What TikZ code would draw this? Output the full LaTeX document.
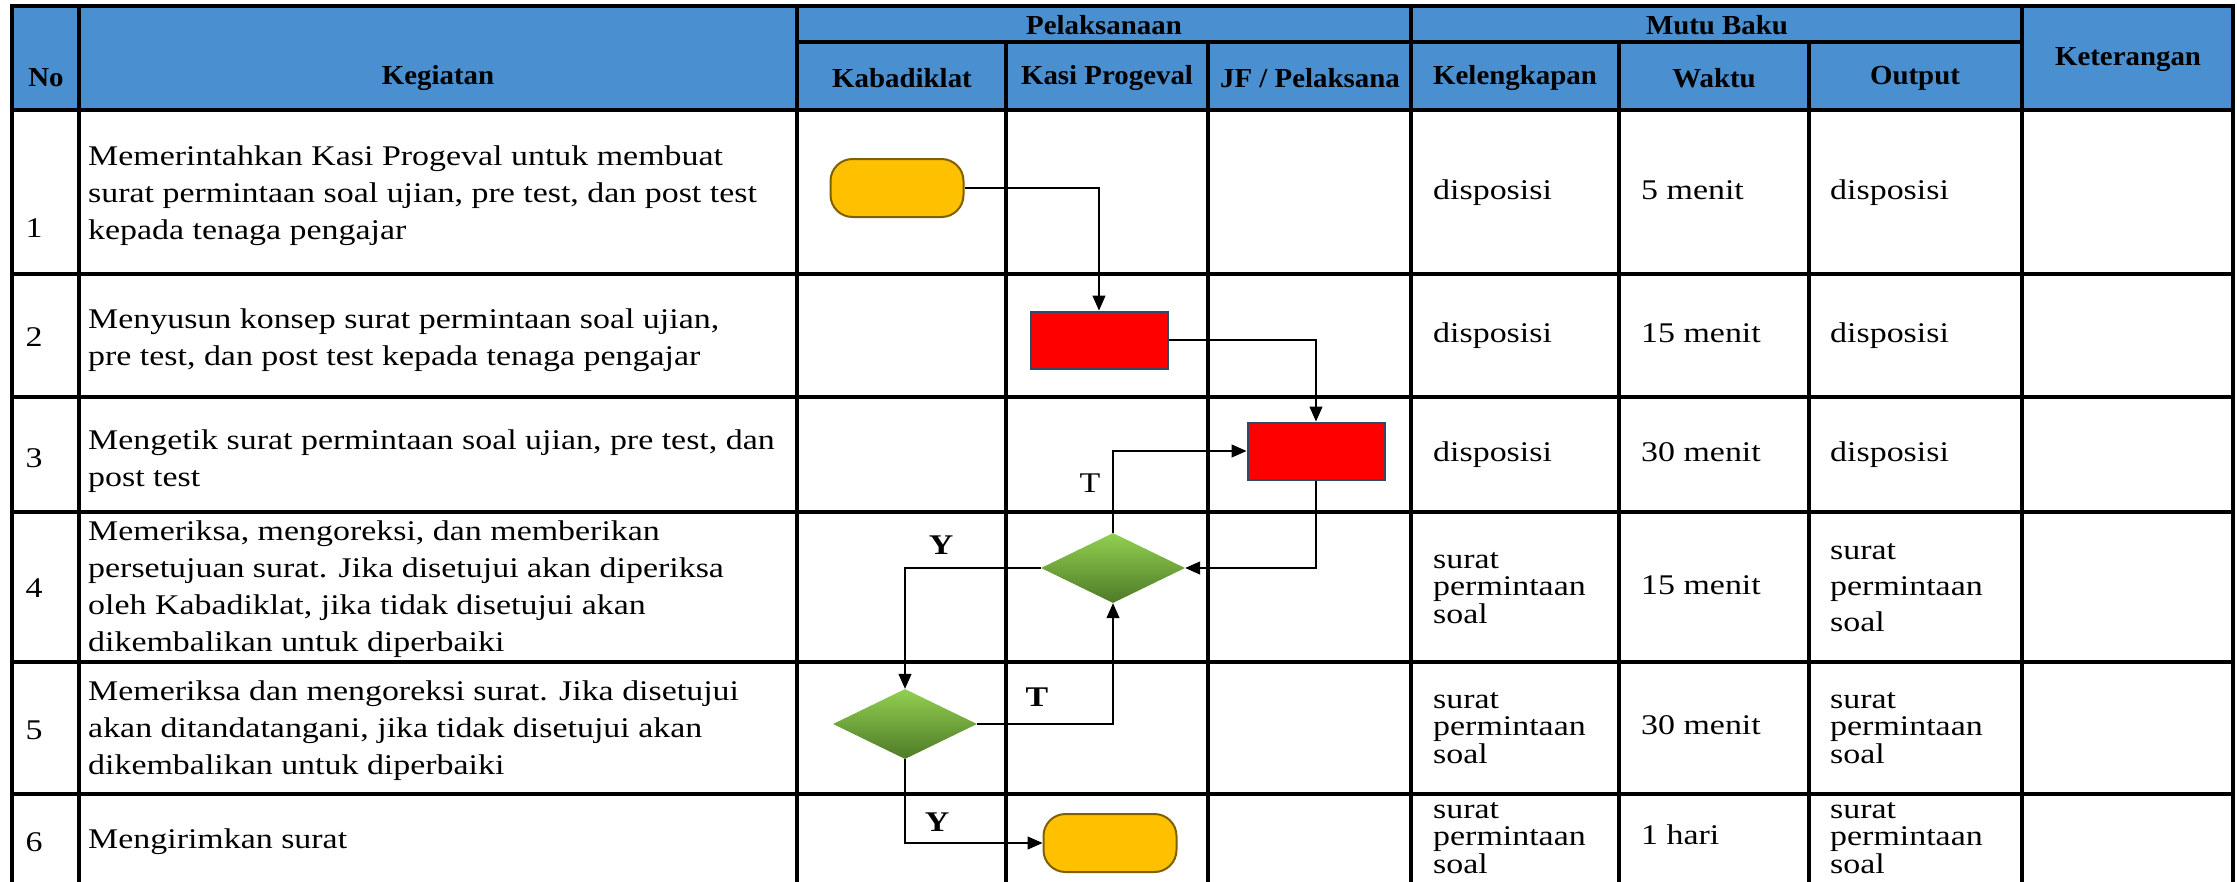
\documentclass[tikz,border=0pt]{standalone}
\usepackage{fontspec}
\setmainfont{Liberation Serif}[FakeStretch=1.19]
\newfontfamily\hdfont{Liberation Serif}[FakeStretch=1.05]
\usetikzlibrary{arrows.meta,shapes.geometric}
\definecolor{headblue}{HTML}{4A8FCF}
\definecolor{termfill}{HTML}{FFC000}
\definecolor{termline}{HTML}{7F6000}
\definecolor{procfill}{HTML}{FF0000}
\definecolor{procline}{HTML}{2E4A66}
\definecolor{dectop}{HTML}{92D050}
\definecolor{decbot}{HTML}{4E7A28}

\begin{document}
\begin{tikzpicture}[x=1pt, y=-1pt,
  grid/.style={line width=3.3pt, line cap=rect, black},
  hd/.style={inner sep=0pt, font=\hdfont\fontsize{27.5}{30}\selectfont\bfseries},
  num/.style={inner sep=0pt, font=\fontsize{28.5}{34}\selectfont},
  cell/.style={anchor=west, align=left, inner sep=0pt, font=\fontsize{28.5}{37}\selectfont},
  one/.style={cell, text height=20pt, text depth=7pt},
  tight/.style={anchor=west, align=left, inner sep=0pt, font=\fontsize{28.5}{27.5}\selectfont},
  term/.style={draw=termline, line width=2pt, fill=termfill, rounded corners=22pt,
               minimum width=133pt, minimum height=58pt},
  proc/.style={draw=procline, line width=2pt, fill=procfill,
               minimum width=137pt, minimum height=57pt},
  dec/.style={diamond, top color=dectop, bottom color=decbot, inner sep=0pt,
              minimum width=144pt, minimum height=70pt},
  arr/.style={-{Triangle[length=15pt,width=13pt]}, line width=1.3pt},
  lbl/.style={inner sep=0pt, font=\fontsize{28.5}{30}\selectfont},
  lblb/.style={inner sep=0pt, font=\fontsize{28.5}{30}\selectfont\bfseries}
]
  \useasboundingbox (0,0) rectangle (2237,881);
  \fill[headblue] (12,6) rectangle (2233,110);

  \draw[grid] (12,6) -- (2233,6);
  \draw[grid] (797,42) -- (2022,42);
  \draw[grid] (12,110) -- (2233,110);
  \foreach \y in {274,397,512,662,794}
    \draw[grid] (12,\y) -- (2233,\y);
  \foreach \x in {12,79,797,1411,2022,2233}
    \draw[grid] (\x,6) -- (\x,881);
  \foreach \x in {1006,1208,1619,1809}
    \draw[grid] (\x,42) -- (\x,881);

  \node[hd] (hNo) at (46,78) {No};
  \node[hd] (hKeg) at (438,78) {Kegiatan};
  \node[hd] (hPel) at (1104,25) {Pelaksanaan};
  \node[hd] (hMutu) at (1717,25) {Mutu Baku};
  \node[hd] (hKet) at (2128,60) {Keterangan};
  \node[hd] (hKab) at (902,78) {Kabadiklat};
  \node[hd] (hKasi) at (1107,78) {Kasi Progeval};
  \node[hd] (hJF) at (1310,78) {JF / Pelaksana};
  \node[hd] (hKel) at (1515,78) {Kelengkapan};
  \node[hd] (hWak) at (1714,78) {Waktu};
  \node[hd] (hOut) at (1915,78) {Output};

  \node[num] (n1) at (34,228) {1};
  \node[num] (n2) at (34,337) {2};
  \node[num] (n3) at (34,458) {3};
  \node[num] (n4) at (34,588) {4};
  \node[num] (n5) at (34,730) {5};
  \node[num] (n6) at (34,842) {6};

  \node[cell] (k1) at (88,196) {Memerintahkan Kasi Progeval untuk membuat\\surat permintaan soal ujian, pre test, dan post test\\kepada tenaga pengajar};
  \node[cell] (k2) at (88,340) {Menyusun konsep surat permintaan soal ujian,\\pre test, dan post test kepada tenaga pengajar};
  \node[cell] (k3) at (88,461) {Mengetik surat permintaan soal ujian, pre test, dan\\post test};
  \node[cell] (k4) at (88,589) {Memeriksa, mengoreksi, dan memberikan\\persetujuan surat. Jika disetujui akan diperiksa\\oleh Kabadiklat, jika tidak disetujui akan\\dikembalikan untuk diperbaiki};
  \node[cell] (k5) at (88,731) {Memeriksa dan mengoreksi surat. Jika disetujui\\akan ditandatangani, jika tidak disetujui akan\\dikembalikan untuk diperbaiki};
  \node[one] (k6) at (88,842) {Mengirimkan surat};

  \node[one] (kel1) at (1433,193) {disposisi};
  \node[one] (kel2) at (1433,336) {disposisi};
  \node[one] (kel3) at (1433,455) {disposisi};
  \node[tight] (kel4) at (1433,588) {surat\\permintaan\\soal};
  \node[tight] (kel5) at (1433,728) {surat\\permintaan\\soal};
  \node[tight] (kel6) at (1433,838) {surat\\permintaan\\soal};

  \node[one] (w1) at (1641,193) {5 menit};
  \node[one] (w2) at (1641,336) {15 menit};
  \node[one] (w3) at (1641,455) {30 menit};
  \node[one] (w4) at (1641,588) {15 menit};
  \node[one] (w5) at (1641,728) {30 menit};
  \node[one] (w6) at (1641,838) {1 hari};

  \node[one] (o1) at (1830,193) {disposisi};
  \node[one] (o2) at (1830,336) {disposisi};
  \node[one] (o3) at (1830,455) {disposisi};
  \node[cell, font=\fontsize{28.5}{36}\selectfont] (o4) at (1830,588) {surat\\permintaan\\soal};
  \node[tight] (o5) at (1830,728) {surat\\permintaan\\soal};
  \node[tight] (o6) at (1830,838) {surat\\permintaan\\soal};

  \node[term] (t1) at (897,188) {};
  \node[proc] (p2) at (1099,340) {};
  \node[proc] (p3) at (1316,451) {};
  \node[dec] (d4) at (1113,568) {};
  \node[dec] (d5) at (905,724) {};
  \node[term] (t6) at (1110,843) {};

  \draw[arr] (t1.east) -| (p2.north);
  \draw[arr] (p2.east) -| (p3.north);
  \draw[arr] (p3.south) |- (d4.east);
  \draw[arr] (d4.north) |- (p3.west);
  \draw[arr] (d4.west) -| (d5.north);
  \draw[arr] (d5.east) -| (d4.south);
  \draw[arr] (d5.south) |- (t6.west);

  \node[lbl] (lT1) at (1090,483) {T};
  \node[lblb] (lY1) at (941,545) {Y};
  \node[lblb] (lT2) at (1037,697) {T};
  \node[lblb] (lY2) at (937,822) {Y};
\end{tikzpicture}
\end{document}
